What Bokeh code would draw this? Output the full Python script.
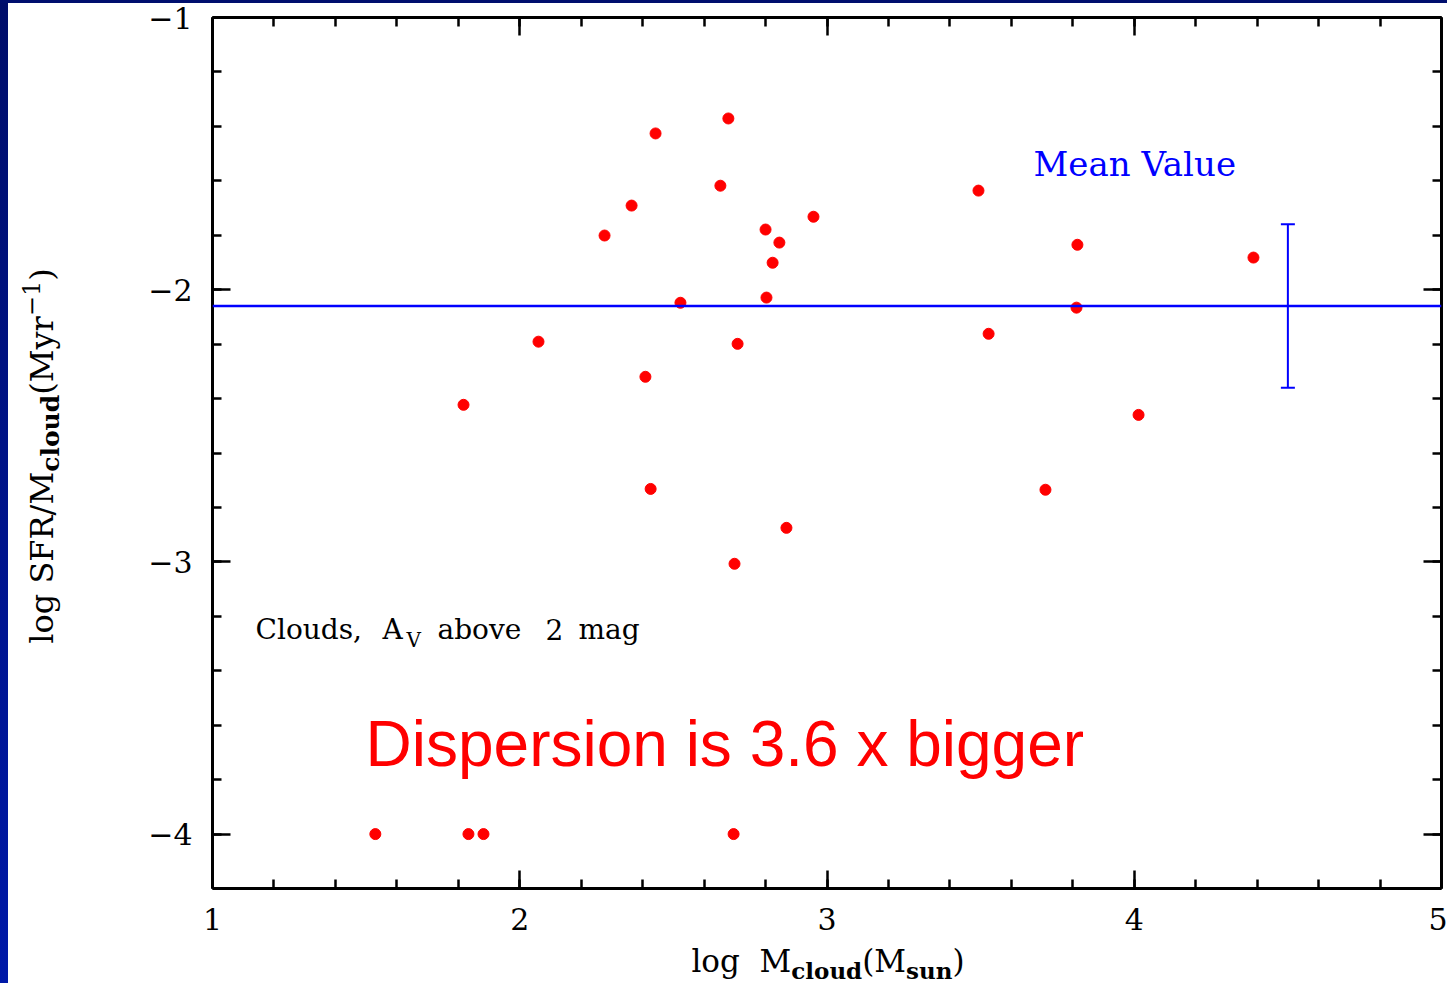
from bokeh.plotting import figure
from bokeh.models import (Range1d, LinearAxis, SingleIntervalTicker, Label, Span, Div,
                          Whisker, TeeHead, ColumnDataSource, CustomJSTickFormatter)
from bokeh.layouts import column
from bokeh.embed import file_html
from bokeh.resources import INLINE

# ---------------- data ----------------
log_mcloud = [1.530, 1.833, 1.882, 2.696, 1.817, 2.061, 2.276, 2.364, 2.409, 2.442,
              2.426, 2.523, 2.653, 2.679, 2.709, 2.699, 2.800, 2.845, 2.823, 2.803,
              2.868, 2.956, 3.493, 3.526, 3.815, 3.812, 4.014, 3.711, 4.388]
log_sfr_per_mass = [-4.000, -4.000, -4.000, -4.000, -2.423, -2.191, -1.801, -1.691, -2.320, -1.426,
                    -2.732, -2.048, -1.618, -1.371, -2.199, -3.007, -1.779, -1.827, -1.901, -2.029,
                    -2.875, -1.732, -1.636, -2.162, -1.835, -2.066, -2.460, -2.735, -1.882]
mean_value = -2.06
mean_sigma = 0.30
mean_bar_x = 4.5
x_tick_labels = ["1", "2", "3", "4", "5"]
y_tick_labels = ["−4", "−3", "−2", "−1"]

# ---------------- layout constants ----------------
W, H = 1447, 983
FL, FR, FT, FB = 212, 1441, 17, 888  # frame edges in page pixels
X0, X1 = 1.0, 5.0
Y0, Y1 = -4.2, -1.0
SERIF = "DejaVu Serif"


def xd(px):
    return X0 + (px - FL) / (FR - FL) * (X1 - X0)


def yd(py):
    return Y1 - (py - FT) / (FB - FT) * (Y1 - Y0)


p = figure(width=W, height=H,
           x_range=Range1d(X0, X1), y_range=Range1d(Y0, Y1),
           output_backend="svg", toolbar_location=None,
           x_axis_location=None, y_axis_location=None,
           min_border_left=FL, min_border_right=W - FR,
           min_border_top=FT, min_border_bottom=H - FB)
p.outline_line_color = None
p.background_fill_color = "white"
p.border_fill_color = "white"
for g in p.grid:
    g.visible = False


def make_axis(show_labels):
    ax = LinearAxis(ticker=SingleIntervalTicker(interval=1, num_minor_ticks=5))
    ax.axis_line_width = 3
    ax.axis_line_color = "black"
    ax.major_tick_in = 18
    ax.major_tick_out = 0
    ax.minor_tick_in = 9
    ax.minor_tick_out = 0
    ax.major_tick_line_width = 2.5
    ax.minor_tick_line_width = 2.5
    ax.major_tick_line_color = "black"
    ax.minor_tick_line_color = "black"
    if show_labels:
        ax.formatter = CustomJSTickFormatter(code="return String(Math.round(tick)).replace('-', '\u2212');")
        ax.major_label_text_font = SERIF
        ax.major_label_text_font_size = "30px"
        ax.major_label_text_color = "black"
    else:
        ax.major_label_text_font_size = "0px"
        ax.major_label_text_color = None
        ax.major_label_standoff = 0
    return ax


bottom = make_axis(True)
bottom.major_label_standoff = 19
left = make_axis(True)
left.major_label_standoff = 20
p.add_layout(bottom, "below")
p.add_layout(left, "left")
p.add_layout(make_axis(False), "above")
p.add_layout(make_axis(False), "right")

# mean line and dispersion bar
p.add_layout(Span(location=mean_value, dimension="width", line_color="#0000FF", line_width=2.5))
wsrc = ColumnDataSource(dict(base=[mean_bar_x], upper=[mean_value + mean_sigma], lower=[mean_value - mean_sigma]))
p.add_layout(Whisker(source=wsrc, base="base", upper="upper", lower="lower", dimension="height",
                     line_color="#0000FF", line_width=2,
                     upper_head=TeeHead(size=14, line_color="#0000FF", line_width=2),
                     lower_head=TeeHead(size=14, line_color="#0000FF", line_width=2)))

# points
src = ColumnDataSource(dict(x=log_mcloud, y=log_sfr_per_mass))
p.scatter("x", "y", source=src, size=11, color="#FF0000", line_color="#FF0000")


def label(text, px, base_py, size, font=SERIF, color="black"):
    # text is drawn centred on the anchor; shift anchor up from the wanted baseline
    p.add_layout(Label(x=xd(px), y=yd(base_py - 0.36 * size), text=text, text_font=font,
                       text_font_size=f"{size}px", text_color=color,
                       text_align="left", text_baseline="alphabetic"))


# annotations inside the frame
label("Clouds,", 255, 639, 28)
label("A", 382, 639, 28)
label("V", 406, 647, 20)
label("above", 437, 639, 28)
label("2", 545, 639, 28)
label("mag", 578, 639, 28)
label("Mean Value", 1033, 176, 34, color="#0000FF")
label("Dispersion is 3.6 x bigger", 365, 767, 64, font="Liberation Sans", color="#FF0000")


# ---------------- overlays outside the frame (HTML) ----------------
def abs_div(html, left_px, top_px, width, height, extra=None):
    st = {"position": "absolute", "left": f"{left_px}px", "top": f"{top_px}px", "z-index": "10",
          "margin": "0px", "padding": "0px"}
    if extra:
        st.update(extra)
    return Div(text=html, width=width, height=height, margin=0, styles=st)


SUB = "font-size:23px;font-weight:bold;position:relative;top:7px;"
x_html = (f"<div style=\"font-family:'{SERIF}';font-size:31px;line-height:40px;color:black;"
          "white-space:nowrap;text-align:center;width:420px;\">"
          f"log&nbsp;&nbsp;M<span style=\"{SUB}\">cloud</span>(M<span style=\"{SUB}\">sun</span>)</div>")
x_div = abs_div(x_html, 828 - 210, 941, 420, 40)

YSUB = "font-size:25px;font-weight:bold;position:relative;top:6px;"
YSUP = "font-size:24px;position:relative;top:-13px;"
y_html = (f"<div style=\"font-family:'{SERIF}';font-size:32px;line-height:50px;color:black;"
          "white-space:nowrap;text-align:center;width:440px;\">"
          f"log SFR/M<span style=\"{YSUB}\">cloud</span>(Myr<span style=\"{YSUP}\">&minus;1</span>)</div>")
y_div = abs_div(y_html, 42 - 220, 456 - 25, 440, 50, {"transform": "rotate(-90deg)", "transform-origin": "50% 50%"})

left_strip = abs_div("", 0, 0, 8, H, {"background": "linear-gradient(to bottom, #000E6A, #0019A8)"})
top_strip = abs_div("", 0, 0, W, 3, {"background": "#000F6E"})

layout = column(p, x_div, y_div, left_strip, top_strip)
open("out.html", "w").write(file_html(layout, INLINE))
